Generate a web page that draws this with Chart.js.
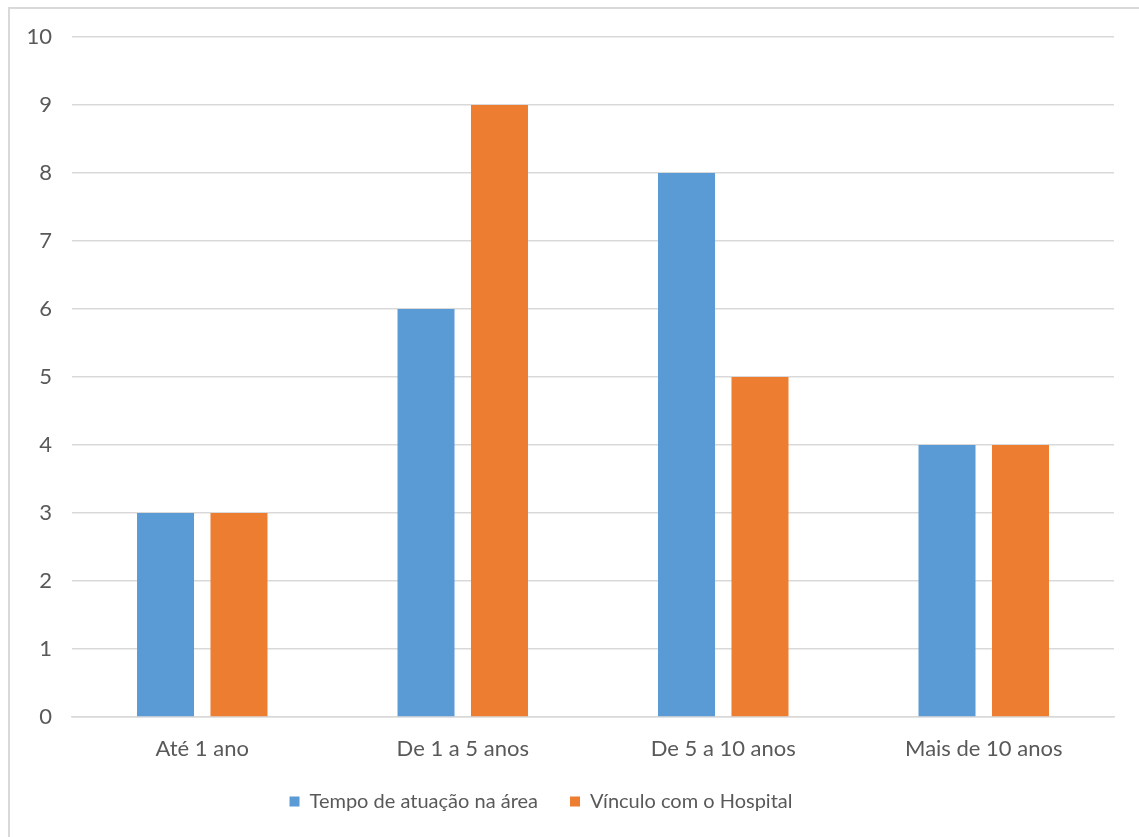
<!DOCTYPE html>
<html><head><meta charset="utf-8">
<script src="https://cdn.jsdelivr.net/npm/chart.js@4/dist/chart.umd.min.js"></script>
<style>
html,body{margin:0;padding:0;background:#fff;}
#frame{position:absolute;left:8px;top:7px;width:1150px;height:850px;border:2px solid #d9d9d9;box-sizing:border-box;}
#wrap{position:absolute;left:0;top:0;width:1139px;height:837px;}
</style></head>
<body>
<div id="frame"></div>
<div id="wrap"><canvas id="c"></canvas></div>
<script>
const categories = ["Até 1 ano", "De 1 a 5 anos", "De 5 a 10 anos", "Mais de 10 anos"];
const seriesNames = ["Tempo de atuação na área", "Vínculo com o Hospital"];
const tempoAtuacao = [3, 6, 8, 4];
const vinculoHospital = [3, 9, 5, 4];
const yTicks = [0,1,2,3,4,5,6,7,8,9,10];

const FONT = "Lato, sans-serif";
const FS = 22;
const legendShift = {
  id: 'legendShift',
  afterLayout(chart) {
    const lg = chart.legend;
    const dy = (chart.chartArea.bottom + 42.5) - lg.top;
    lg.top += dy; lg.bottom += dy;
    lg.left -= 16; lg.right -= 16;
  }
};
new Chart(document.getElementById('c'), {
  type: 'bar',
  data: {
    labels: categories,
    datasets: [
      {label: seriesNames[0], data: tempoAtuacao, backgroundColor: '#5B9BD5', categoryPercentage: 0.564, barPercentage: 0.776},
      {label: seriesNames[1], data: vinculoHospital, backgroundColor: '#ED7D31', categoryPercentage: 0.564, barPercentage: 0.776}
    ]
  },
  plugins: [legendShift],
  options: {
    responsive: true, maintainAspectRatio: false, animation: false,
    layout: {padding: {left: 0, right: 25, top: 37, bottom: 10}},
    plugins: {
      tooltip: {enabled: false},
      legend: {
        position: 'bottom',
        labels: {boxWidth: 10, boxHeight: 10, padding: 32, color: '#595959', font: {family: FONT, size: 20}}
      }
    },
    scales: {
      x: {
        grid: {display: false, drawTicks: false},
        border: {display: true, color: '#d9d9d9', width: 1.5},
        ticks: {padding: 19, color: '#595959', font: {family: FONT, size: FS}},
        afterFit: s => { s.height = 48; }
      },
      y: {
        min: 0, max: 10,
        afterBuildTicks: s => { s.ticks = yTicks.map(v => ({value: v})); },
        grid: {color: '#d9d9d9', lineWidth: 1.5, drawTicks: false},
        border: {display: false},
        ticks: {padding: 20, color: '#595959', font: {family: FONT, size: FS}},
        afterFit: s => { s.width = 72; }
      }
    }
  }
});
</script>
</body></html>
